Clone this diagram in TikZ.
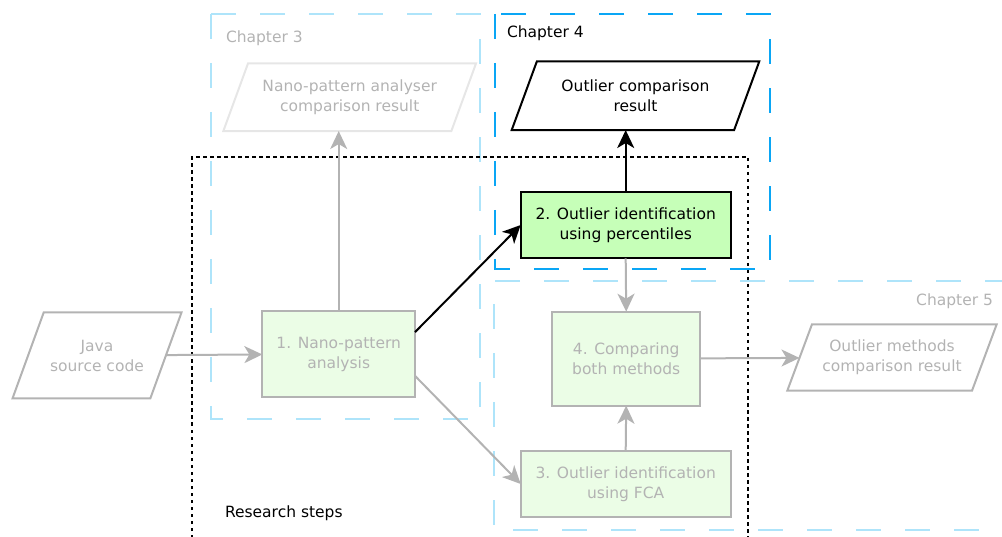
\documentclass[tikz,border=0pt]{standalone}
\usepackage{fontspec}
\setmainfont{DejaVu Sans}
\usetikzlibrary{shapes.geometric,arrows.meta}
\definecolor{gr}{HTML}{B3B3B3}
\definecolor{grl}{HTML}{E6E6E6}
\definecolor{lb}{HTML}{AEE4FA}
\definecolor{db}{HTML}{0AA6F5}
\definecolor{gfill}{HTML}{EBFDE6}
\definecolor{gfilldark}{HTML}{C6FFB8}
\begin{document}
\begin{tikzpicture}[x=1pt,y=-1pt,font=\fontsize{15.5}{20}\selectfont,
  chap/.style={line width=2pt,dash pattern=on 25pt off 24pt},
  resbox/.style={line width=2.3pt,dash pattern=on 3.5pt off 3.5pt},
  para/.style={trapezium,trapezium left angle=#1,trapezium right angle=180-#1,
    trapezium stretches body,draw,line width=2pt,align=center,inner sep=0pt,outer sep=0pt},
  stepbox/.style={rectangle,draw,line width=2pt,align=center,inner sep=0pt,outer sep=0pt},
  conn/.style={line width=2pt,-{Stealth[length=18pt 0,width=17pt 0,inset=5pt 0]}},
  lbl/.style={inner sep=0pt,outer sep=0pt}
]
\useasboundingbox (0,0) rectangle (1002,537);
% chapter frames
\draw[chap,lb] (211,14) rectangle (480,419);
\draw[chap,lb] (1010,281) -- (494,281) -- (494,530) -- (1010,530);
\draw[chap,db] (495,14) rectangle (770,269);
% research steps frame
\draw[resbox] (192,545) -- (192,157) -- (748,157) -- (748,545);
% labels
\node[lbl,anchor=base west,text=gr] (c3) at (226,43) {Chapter 3};
\node[lbl,anchor=base west] (c4) at (507,38) {Chapter 4};
\node[lbl,anchor=base east,text=gr] (c5) at (993,306) {Chapter 5};
\node[lbl,anchor=base west] (rs) at (225,517) {Research steps};
% nodes
\node[para=45.3,draw=gr,text=gr,minimum width=169pt,minimum height=86pt] (java) at (97,355.5) {Java\\source code};
\node[para=54.8,draw=grl,text=gr,minimum width=252.7pt,minimum height=67.7pt] (npres) at (349.7,97.2) {Nano-pattern analyser\\comparison result};
\node[para=51.8,draw=black,minimum width=247.6pt,minimum height=68.7pt] (outres) at (635.5,95.7) {Outlier comparison\\result};
\node[para=54.8,draw=gr,text=gr,minimum width=209.4pt,minimum height=66.4pt] (outmeth) at (892,357.5) {Outlier methods\\comparison result};
\node[stepbox,draw=gr,fill=gfill,text=gr,minimum width=152.7pt,minimum height=86.6pt] (b1) at (338.7,354) {1. Nano-pattern\\analysis};
\node[stepbox,draw=black,fill=gfilldark,minimum width=210pt,minimum height=66.6pt] (b2) at (625.7,225) {2. Outlier identification\\using percentiles};
\node[stepbox,draw=gr,fill=gfill,text=gr,minimum width=210pt,minimum height=66.6pt] (b3) at (625.7,484) {3. Outlier identification\\using FCA};
\node[stepbox,draw=gr,fill=gfill,text=gr,minimum width=147.7pt,minimum height=94pt] (b4) at (626.2,358.7) {4. Comparing\\both methods};
% connectors
\draw[conn,gr] (java) -- (b1);
\draw[conn,gr] (b1.north) -- (b1.north |- npres.south);
\draw[conn,black] (b1.16) -- (b2.west);
\draw[conn,gr] (b1.-16) -- (b3.west);
\draw[conn,black] (b2.north) -- (b2.north |- outres.south);
\draw[conn,gr] (b2.south) -- (b4.north);
\draw[conn,gr] (b3.north) -- (b4.south);
\draw[conn,gr] (b4) -- (outmeth);
\end{tikzpicture}
\end{document}
